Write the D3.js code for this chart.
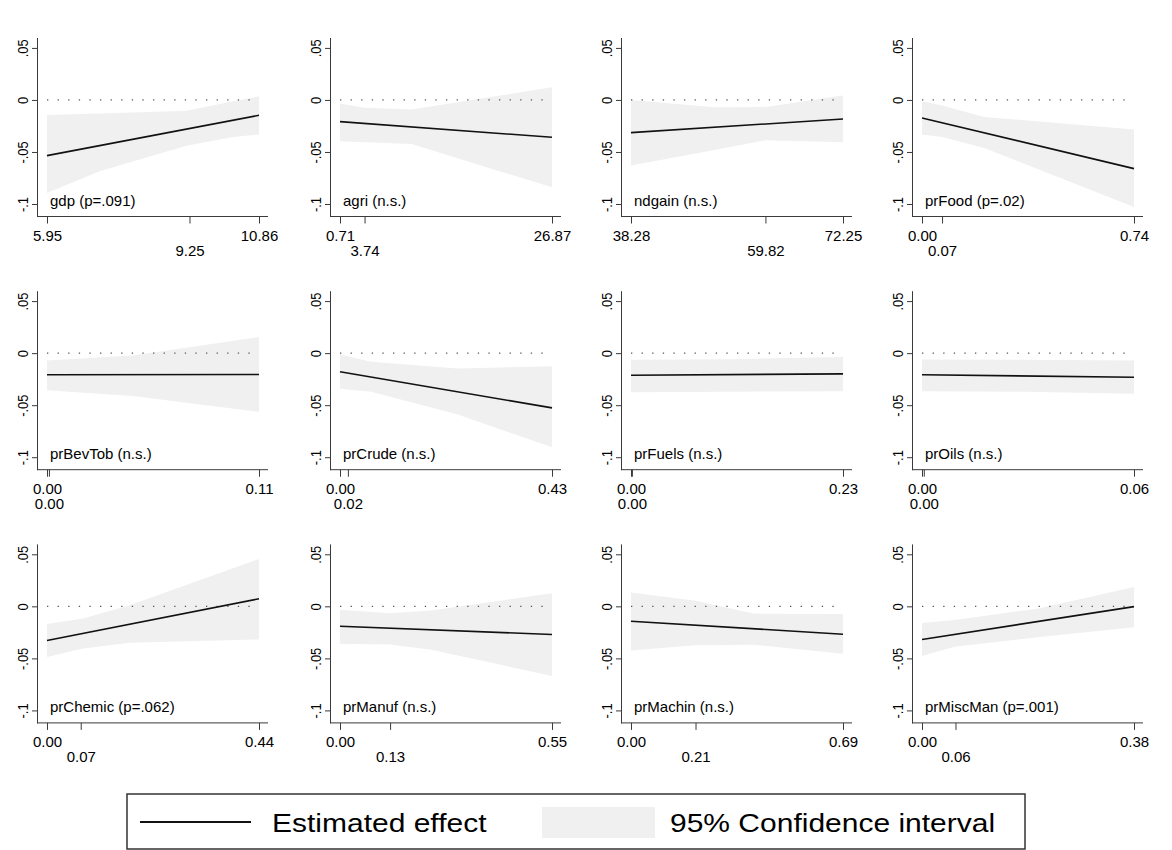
<!DOCTYPE html>
<html>
<head>
<meta charset="utf-8">
<script src="https://cdn.jsdelivr.net/npm/d3@7"></script>
<style>
  body { margin: 0; background: #fff; }
  svg { display: block; font-family: "Liberation Sans", Arial, sans-serif; }
</style>
</head>
<body>
<div id="chart"></div>
<script>
// marginal effects, one small panel per moderator
var names = ["gdp", "agri", "ndgain", "prFood", "prBevTob", "prCrude",
             "prFuels", "prOils", "prChemic", "prManuf", "prMachin", "prMiscMan"]
var pvals = ["(p=.091)", "(n.s.)", "(n.s.)", "(p=.02)", "(n.s.)", "(n.s.)",
             "(n.s.)", "(n.s.)", "(p=.062)", "(n.s.)", "(n.s.)", "(p=.001)"]

// x range (min, max) plus a third tick shown on a second row
var xMin = [5.95, 0.71, 38.28, 0, 0, 0, 0, 0, 0, 0, 0, 0]
var xMax = [10.86, 26.87, 72.25, 0.74, 0.11, 0.43, 0.23, 0.06, 0.44, 0.55, 0.69, 0.38]
var xMid = [9.25, 3.74, 59.82, 0.07, 0.001, 0.016, 0.001, 0.0005, 0.07, 0.13, 0.21, 0.06]
var xMinLabels = ["5.95", "0.71", "38.28", "0.00", "0.00", "0.00", "0.00", "0.00", "0.00", "0.00", "0.00", "0.00"]
var xMaxLabels = ["10.86", "26.87", "72.25", "0.74", "0.11", "0.43", "0.23", "0.06", "0.44", "0.55", "0.69", "0.38"]
var xMidLabels = ["9.25", "3.74", "59.82", "0.07", "0.00", "0.02", "0.00", "0.00", "0.07", "0.13", "0.21", "0.06"]

// estimated effect at min and max
var estStart = [-0.0535, -0.0208, -0.0314, -0.0173, -0.0208, -0.0179, -0.0212, -0.0208, -0.0328, -0.0191, -0.0143, -0.0318]
var estEnd = [-0.0147, -0.0359, -0.0183, -0.066, -0.0205, -0.0526, -0.0199, -0.0231, 0.0073, -0.0271, -0.0268, -0.0003]

// 95% CI, evaluated at a few points per panel
var ciX = [
    [5.95, 7.17, 9.18, 10.26, 10.86],
    [0.71, 3.74, 9.54, 26.87],
    [38.28, 51.65, 59.82, 72.25],
    [0, 0.07, 0.217, 0.74],
    [0, 0.0445, 0.11],
    [0, 0.063, 0.239, 0.43],
    [0, 0.107, 0.23],
    [0, 0.029, 0.06],
    [0, 0.0747, 0.1716, 0.44],
    [0, 0.13, 0.2365, 0.55],
    [0, 0.21, 0.402, 0.69],
    [0, 0.058, 0.207, 0.38]
]
var ciHi = [
    [-0.0144, -0.0131, -0.0103, -0.0013, 0.0035],
    [-0.0035, -0.0074, -0.0093, 0.0122],
    [0.0, -0.0071, -0.0067, 0.0042],
    [-0.0013, -0.0054, -0.0163, -0.0285],
    [-0.0071, -0.0022, 0.0154],
    [-0.0013, -0.0083, -0.0147, -0.0125],
    [-0.0064, -0.0058, -0.0038],
    [-0.0061, -0.0064, -0.0071],
    [-0.0169, -0.0118, 0.001, 0.0455],
    [-0.0032, -0.0067, -0.0041, 0.0127],
    [0.0134, 0.0054, -0.007, -0.0073],
    [-0.0159, -0.0131, -0.0022, 0.0185]
]
var ciLo = [
    [-0.0894, -0.0686, -0.0439, -0.0356, -0.0333],
    [-0.0397, -0.0407, -0.0423, -0.084],
    [-0.0631, -0.0481, -0.0388, -0.0407],
    [-0.0333, -0.0356, -0.0462, -0.1029],
    [-0.0356, -0.0413, -0.0564],
    [-0.0343, -0.0372, -0.059, -0.0904],
    [-0.0375, -0.037, -0.0365],
    [-0.0365, -0.0372, -0.0391],
    [-0.0487, -0.0404, -0.035, -0.0318],
    [-0.036, -0.0366, -0.0417, -0.0669],
    [-0.0424, -0.0373, -0.0369, -0.0455],
    [-0.0478, -0.0389, -0.0296, -0.0201]
]

var yTicks = [0.05, 0, -0.05, -0.1]
var yTickLabels = [".05", "0", "-.05", "-.1"]

var width = 1172, height = 850
var colX = [37, 330, 621, 912]
var rowTop = [37.5, 290.7, 543.9]
var plotH = 179
var bandColor = '#f0f0f0'
var axisColor = '#3a3a3a'
var font = '"Liberation Sans", Arial, sans-serif'

var svg = d3.select('#chart').append('svg')
    .attr('width', width)
    .attr('height', height)

svg.append('rect').attr('width', width).attr('height', height).attr('fill', '#fff')

names.forEach(function (name, i) {
    var c = i % 4, r = Math.floor(i / 4)
    var x0 = colX[c], top = rowTop[r], bottom = top + plotH

    var x = d3.scaleLinear().domain([xMin[i], xMax[i]]).range([x0 + 10, x0 + 222])
    var y = d3.scaleLinear().domain([-0.112, 0.06]).range([bottom, top])

    var g = svg.append('g')

    // confidence band
    var band = ciX[i].map(function (v, k) { return {x: v, lo: ciLo[i][k], hi: ciHi[i][k]} })
    g.append('path')
        .datum(band)
        .attr('fill', bandColor)
        .attr('d', d3.area().x(function (d) { return x(d.x) })
            .y0(function (d) { return y(d.lo) })
            .y1(function (d) { return y(d.hi) }))

    // zero reference
    g.append('line')
        .attr('x1', x(xMin[i])).attr('x2', x(xMax[i]))
        .attr('y1', y(0)).attr('y2', y(0))
        .attr('stroke', '#555')
        .attr('stroke-width', 1.3)
        .attr('stroke-dasharray', '1.3,9.3')

    // estimated effect
    g.append('path')
        .datum([[xMin[i], estStart[i]], [xMax[i], estEnd[i]]])
        .attr('fill', 'none')
        .attr('stroke', '#111')
        .attr('stroke-width', 1.6)
        .attr('d', d3.line().x(function (d) { return x(d[0]) }).y(function (d) { return y(d[1]) }))

    // y axis
    var ya = g.append('g')
        .attr('transform', 'translate(' + x0 + ',0)')
        .call(d3.axisLeft(y).tickValues(yTicks).tickSize(5).tickSizeOuter(0)
            .tickFormat(function (d, k) { return yTickLabels[k] }))
    ya.select('.domain').attr('stroke', axisColor)
    ya.selectAll('.tick line').attr('stroke', axisColor)
    ya.selectAll('.tick text')
        .attr('x', 0).attr('dy', 0)
        .attr('text-anchor', 'middle')
        .attr('transform', 'translate(-9,0) rotate(-90) scale(0.86,1)')
        .attr('font-size', 15)
        .attr('font-family', font)
        .attr('fill', '#000')

    // x axis
    var xa = g.append('g')
        .attr('transform', 'translate(0,' + bottom + ')')
        .call(d3.axisBottom(x).tickValues([xMin[i], xMax[i], xMid[i]]).tickSize(7).tickSizeOuter(0)
            .tickFormat(function (d, k) { return [xMinLabels[i], xMaxLabels[i], xMidLabels[i]][k] }))
    xa.select('.domain').remove()
    xa.append('line')
        .attr('x1', x0).attr('x2', x0 + 231)
        .attr('stroke', axisColor)
    xa.selectAll('.tick line').attr('stroke', axisColor)
    xa.selectAll('.tick text')
        .attr('dy', 0)
        .attr('y', function (d, k) { return k == 2 ? 39 : 24 })
        .attr('font-size', 15)
        .attr('font-family', font)
        .attr('fill', '#000')

    // panel label
    g.append('text')
        .attr('x', x(xMin[i]) + 3)
        .attr('y', y(-0.1) + 1.5)
        .attr('font-size', 15)
        .attr('fill', '#000')
        .text(name + ' ' + pvals[i])
})

// legend
var lg = svg.append('g')
lg.append('rect')
    .attr('x', 127).attr('y', 794).attr('width', 898).attr('height', 55)
    .attr('fill', '#fff').attr('stroke', '#333').attr('stroke-width', 1.5)
lg.append('line')
    .attr('x1', 140).attr('x2', 251).attr('y1', 822).attr('y2', 822)
    .attr('stroke', '#111').attr('stroke-width', 2)
lg.append('text')
    .attr('transform', 'translate(272,832) scale(1,0.88)')
    .attr('font-size', 30).attr('fill', '#000')
    .text('Estimated effect')
lg.append('rect')
    .attr('x', 542).attr('y', 807).attr('width', 113).attr('height', 31)
    .attr('fill', bandColor)
lg.append('text')
    .attr('transform', 'translate(670,832) scale(1,0.88)')
    .attr('font-size', 30).attr('fill', '#000')
    .text('95% Confidence interval')
</script>
</body>
</html>
